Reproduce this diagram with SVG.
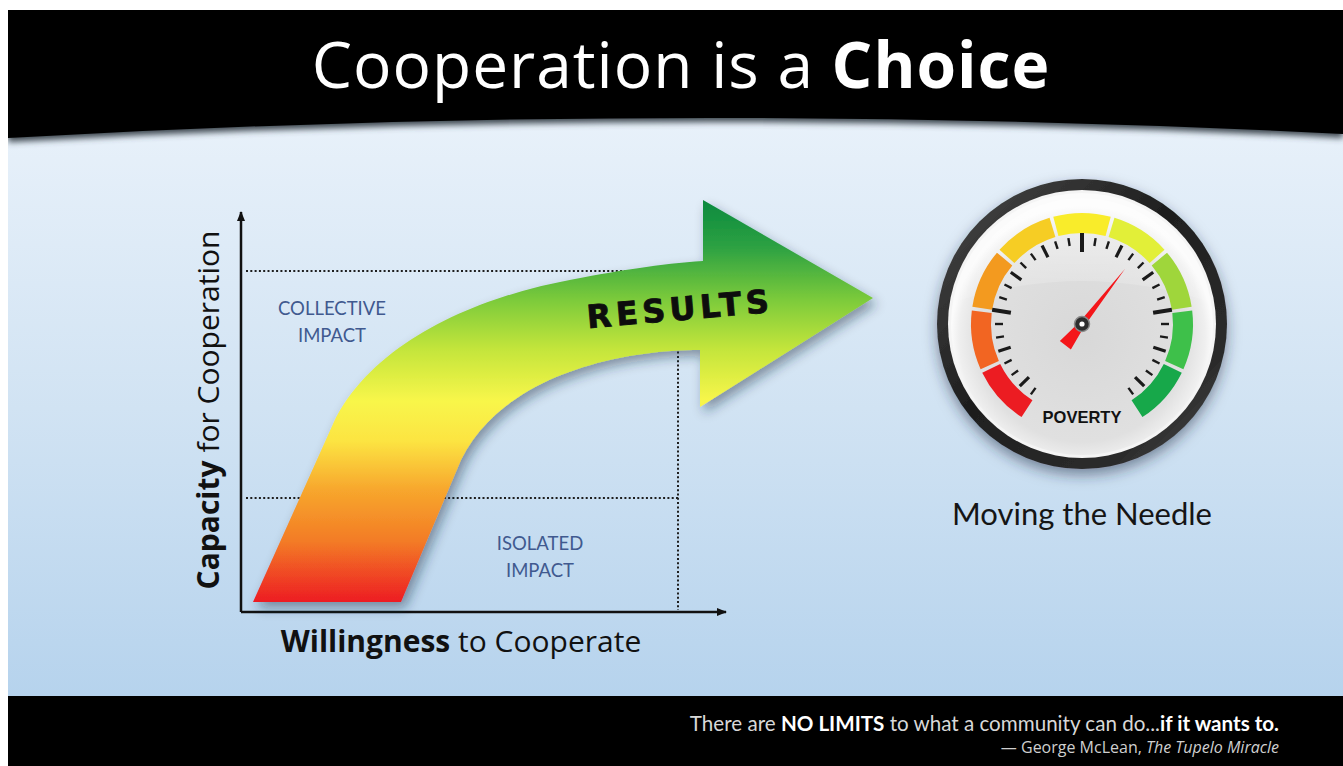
<svg xmlns="http://www.w3.org/2000/svg" xmlns:xlink="http://www.w3.org/1999/xlink" width="1343" height="766" viewBox="0 0 1343 766">
  <defs>
    <style>
      .title { font-family: "Open Sans", "Liberation Sans", sans-serif; fill: #ffffff; font-size: 64px; letter-spacing: 1px; }
      .axis-label { font-family: "Open Sans", "Liberation Sans", sans-serif; fill: #111111; font-size: 30px; }
      .zone { font-family: Lato, "Liberation Sans", sans-serif; fill: #40598f; font-size: 18.5px; text-anchor: middle; }
      .caption { font-family: Lato, "Liberation Sans", sans-serif; fill: #151515; font-size: 31px; text-anchor: middle; }
      .quote { font-family: Lato, "Liberation Sans", sans-serif; fill: #d8d8d8; font-size: 20.6px; text-anchor: end; }
      .cite { font-family: "Open Sans", "Liberation Sans", sans-serif; fill: #cfcfcf; font-size: 16px; text-anchor: end; }
      .axis { stroke: #111111; stroke-width: 2.5; fill: none; }
      .guide { stroke: #1e1e1e; stroke-width: 2; stroke-dasharray: 2 2.3; fill: none; }
      .tk-major { stroke: #1a1a1a; stroke-width: 4; }
      .tk-mid { stroke: #1a1a1a; stroke-width: 3.2; }
      .tk-minor { stroke: #1a1a1a; stroke-width: 2.4; }
      .seg { fill: none; stroke-width: 20; }
    </style>

    <linearGradient id="bodyGrad" x1="0" y1="120" x2="0" y2="696" gradientUnits="userSpaceOnUse">
      <stop offset="0" stop-color="#e8f1fa"/>
      <stop offset="0.5" stop-color="#d1e3f3"/>
      <stop offset="1" stop-color="#b6d3ed"/>
    </linearGradient>

    <linearGradient id="arrowGrad" x1="0" y1="200" x2="0" y2="602" gradientUnits="userSpaceOnUse">
      <stop offset="0" stop-color="#0a8a3e"/>
      <stop offset="0.12" stop-color="#2ea243"/>
      <stop offset="0.25" stop-color="#7dcb3a"/>
      <stop offset="0.37" stop-color="#c3e53b"/>
      <stop offset="0.5" stop-color="#f8f64a"/>
      <stop offset="0.6" stop-color="#fce442"/>
      <stop offset="0.72" stop-color="#f7a72d"/>
      <stop offset="0.85" stop-color="#f37b25"/>
      <stop offset="1" stop-color="#ed1c24"/>
    </linearGradient>

    <linearGradient id="bezelGrad" x1="0" y1="0" x2="1" y2="1">
      <stop offset="0" stop-color="#4a4a4a"/>
      <stop offset="0.45" stop-color="#1e1e1e"/>
      <stop offset="0.8" stop-color="#2c2c2c"/>
      <stop offset="1" stop-color="#555555"/>
    </linearGradient>

    <radialGradient id="faceGrad" cx="0.5" cy="0.55" r="0.5">
      <stop offset="0" stop-color="#d8d8d8"/>
      <stop offset="0.8" stop-color="#e0e0e0"/>
      <stop offset="0.94" stop-color="#efefef"/>
      <stop offset="1" stop-color="#fbfbfb"/>
    </radialGradient>

    <linearGradient id="glareGrad" x1="0" y1="0" x2="0" y2="1">
      <stop offset="0" stop-color="#ffffff" stop-opacity="0.55"/>
      <stop offset="1" stop-color="#ffffff" stop-opacity="0.1"/>
    </linearGradient>

    <filter id="soft" x="-5%" y="-50%" width="110%" height="200%">
      <feGaussianBlur stdDeviation="3"/>
    </filter>
    <filter id="arrowShadow" x="-20%" y="-20%" width="140%" height="140%">
      <feDropShadow dx="4" dy="6" stdDeviation="6" flood-color="#1a2a40" flood-opacity="0.45"/>
    </filter>
    <filter id="gaugeShadow" x="-20%" y="-20%" width="140%" height="140%">
      <feDropShadow dx="0" dy="6" stdDeviation="7" flood-color="#1a2a40" flood-opacity="0.5"/>
    </filter>

    <clipPath id="bodyClip">
      <rect x="8" y="10" width="1335" height="686"/>
    </clipPath>

    <marker id="axisHead" viewBox="0 0 10 8" refX="9" refY="4" markerWidth="10" markerHeight="8" orient="auto" markerUnits="userSpaceOnUse">
      <path d="M0,0 L10,4 L0,8 Z" fill="#111111"/>
    </marker>

    <!-- dial tick shapes, drawn at 12 o'clock and rotated into place -->
    <line id="tkMajor" class="tk-major" x1="1082" y1="233" x2="1082" y2="252"/>
    <line id="tkMid" class="tk-mid" x1="1082" y1="236" x2="1082" y2="249"/>
    <line id="tkMinor" class="tk-minor" x1="1082" y1="237" x2="1082" y2="245"/>
  </defs>

  <!-- page -->
  <rect x="0" y="0" width="1343" height="766" fill="#ffffff"/>
  <rect x="8" y="10" width="1335" height="686" fill="url(#bodyGrad)"/>

  <!-- header band with curved lower edge -->
  <g id="header">
    <g clip-path="url(#bodyClip)">
      <path d="M8,10 H1343 V134 Q670,100 8,138 Z" fill="#3c4650" filter="url(#soft)" transform="translate(0,4)"/>
    </g>
    <path d="M8,10 H1343 V134 Q670,100 8,138 Z" fill="#000000"/>
    <text class="title" x="681" y="88" text-anchor="middle">Cooperation is a <tspan font-weight="700">Choice</tspan></text>
  </g>

  <!-- chart: axes, guides and the results arrow -->
  <g id="chart">
    <g id="guides">
      <path class="guide" d="M246,271 H700"/>
      <path class="guide" d="M246,498 H678"/>
      <path class="guide" d="M678,300 V610"/>
    </g>
    <g id="axes">
      <path class="axis" d="M241,612 V212" marker-end="url(#axisHead)"/>
      <path class="axis" d="M241,612 H726" marker-end="url(#axisHead)"/>
    </g>

    <g id="zone-collective">
      <text class="zone" x="332" y="315">COLLECTIVE</text>
      <text class="zone" x="332" y="342">IMPACT</text>
    </g>
    <g id="zone-isolated">
      <text class="zone" x="540" y="550">ISOLATED</text>
      <text class="zone" x="540" y="577">IMPACT</text>
    </g>

    <g id="results-arrow">
      <path filter="url(#arrowShadow)" fill="url(#arrowGrad)"
        d="M253,602 L333,424 C370,345 470,300 560,282 C620,270 660,264 703,261
           L703,200 L873,298 L700,407 L700,350
           C610,350 500,380 461,460 L401,602 Z"/>
      <text transform="translate(681,320) rotate(-5)" text-anchor="middle"
        font-family="'DejaVu Sans', 'Liberation Sans', sans-serif" font-weight="700"
        font-size="32" letter-spacing="4.5" fill="#0d0d0d" stroke="#0d0d0d" stroke-width="0.8">RESULTS</text>
    </g>

    <g id="y-label">
      <text class="axis-label" transform="translate(219,410) rotate(-90)" text-anchor="middle"><tspan font-weight="700">Capacity</tspan> for Cooperation</text>
    </g>
    <g id="x-label">
      <text class="axis-label" x="461" y="652" text-anchor="middle"><tspan font-weight="700">Willingness</tspan> to Cooperate</text>
    </g>
  </g>

  <!-- poverty gauge -->
  <g id="gauge">
    <circle cx="1082" cy="324" r="145" fill="url(#bezelGrad)" filter="url(#gaugeShadow)"/>
    <circle cx="1082" cy="324" r="134" fill="#f4f4f4"/>
    <circle cx="1082" cy="324" r="131" fill="url(#faceGrad)"/>
    <path d="M960,300 A124,124 0 0 1 1204,300 Q1082,262 960,300 Z" fill="url(#glareGrad)"/>

    <g id="dial-band">
      <path class="seg" stroke="#ec1c22" d="M1027,408.71 A101,101 0 0 1 991.22,368.28"/>
      <path class="seg" stroke="#f26522" d="M989.73,365.08 A101,101 0 0 1 981.75,311.69"/>
      <path class="seg" stroke="#f39a1f" d="M982.24,308.2 A101,101 0 0 1 1004.63,259.08"/>
      <path class="seg" stroke="#f6cd24" d="M1006.94,256.42 A101,101 0 0 1 1052.47,227.41"/>
      <path class="seg" stroke="#f9ec2a" d="M1055.86,226.44 A101,101 0 0 1 1108.14,226.44"/>
      <path class="seg" stroke="#e2ef38" d="M1111.53,227.41 A101,101 0 0 1 1157.06,256.42"/>
      <path class="seg" stroke="#9fd63b" d="M1159.37,259.08 A101,101 0 0 1 1181.76,308.2"/>
      <path class="seg" stroke="#3ec04a" d="M1182.25,311.69 A101,101 0 0 1 1174.27,365.08"/>
      <path class="seg" stroke="#17a84a" d="M1172.78,368.28 A101,101 0 0 1 1137,408.71"/>
    </g>

    <g id="dial-ticks">
      <use xlink:href="#tkMinor" transform="rotate(-144 1082 324)"/>
      <use xlink:href="#tkMid" transform="rotate(-135 1082 324)"/>
      <use xlink:href="#tkMinor" transform="rotate(-126 1082 324)"/>
      <use xlink:href="#tkMinor" transform="rotate(-117 1082 324)"/>
      <use xlink:href="#tkMid" transform="rotate(-108 1082 324)"/>
      <use xlink:href="#tkMinor" transform="rotate(-99 1082 324)"/>
      <use xlink:href="#tkMinor" transform="rotate(-90 1082 324)"/>
      <use xlink:href="#tkMajor" transform="rotate(-81 1082 324)"/>
      <use xlink:href="#tkMinor" transform="rotate(-72 1082 324)"/>
      <use xlink:href="#tkMinor" transform="rotate(-63 1082 324)"/>
      <use xlink:href="#tkMid" transform="rotate(-54 1082 324)"/>
      <use xlink:href="#tkMinor" transform="rotate(-45 1082 324)"/>
      <use xlink:href="#tkMinor" transform="rotate(-36 1082 324)"/>
      <use xlink:href="#tkMid" transform="rotate(-27 1082 324)"/>
      <use xlink:href="#tkMinor" transform="rotate(-18 1082 324)"/>
      <use xlink:href="#tkMinor" transform="rotate(-9 1082 324)"/>
      <use xlink:href="#tkMajor"/>
      <use xlink:href="#tkMinor" transform="rotate(9 1082 324)"/>
      <use xlink:href="#tkMinor" transform="rotate(18 1082 324)"/>
      <use xlink:href="#tkMid" transform="rotate(27 1082 324)"/>
      <use xlink:href="#tkMinor" transform="rotate(36 1082 324)"/>
      <use xlink:href="#tkMinor" transform="rotate(45 1082 324)"/>
      <use xlink:href="#tkMid" transform="rotate(54 1082 324)"/>
      <use xlink:href="#tkMinor" transform="rotate(63 1082 324)"/>
      <use xlink:href="#tkMinor" transform="rotate(72 1082 324)"/>
      <use xlink:href="#tkMajor" transform="rotate(81 1082 324)"/>
      <use xlink:href="#tkMinor" transform="rotate(90 1082 324)"/>
      <use xlink:href="#tkMinor" transform="rotate(99 1082 324)"/>
      <use xlink:href="#tkMid" transform="rotate(108 1082 324)"/>
      <use xlink:href="#tkMinor" transform="rotate(117 1082 324)"/>
      <use xlink:href="#tkMinor" transform="rotate(126 1082 324)"/>
      <use xlink:href="#tkMid" transform="rotate(135 1082 324)"/>
      <use xlink:href="#tkMinor" transform="rotate(144 1082 324)"/>
    </g>

    <text x="1082" y="423" text-anchor="middle" font-family="'Liberation Sans', Arial, sans-serif" font-weight="700" font-size="16.5" fill="#111111">POVERTY</text>

    <g id="needle" transform="translate(1082,324) rotate(38)">
      <polygon points="0,-70 3.2,0 7,27 -7,27 -3.2,0" fill="#f4161a"/>
    </g>
    <circle cx="1082" cy="324" r="7.5" fill="#2e2e2e" stroke="#8a8a8a" stroke-width="1.5"/>
    <circle cx="1082" cy="324" r="2.6" fill="#ffffff"/>
  </g>

  <g id="gauge-caption">
    <text class="caption" x="1082" y="525">Moving the Needle</text>
  </g>

  <!-- footer band with quotation -->
  <g id="footer">
    <rect x="8" y="696" width="1335" height="70" fill="#000000"/>
    <text class="quote" x="1279" y="731">There are <tspan fill="#ffffff" font-weight="700">NO LIMITS</tspan> to what a community can do...<tspan fill="#ffffff" font-weight="700">if it wants to.</tspan></text>
    <text class="cite" x="1279" y="753">— George McLean, <tspan font-style="italic">The Tupelo Miracle</tspan></text>
  </g>
</svg>
